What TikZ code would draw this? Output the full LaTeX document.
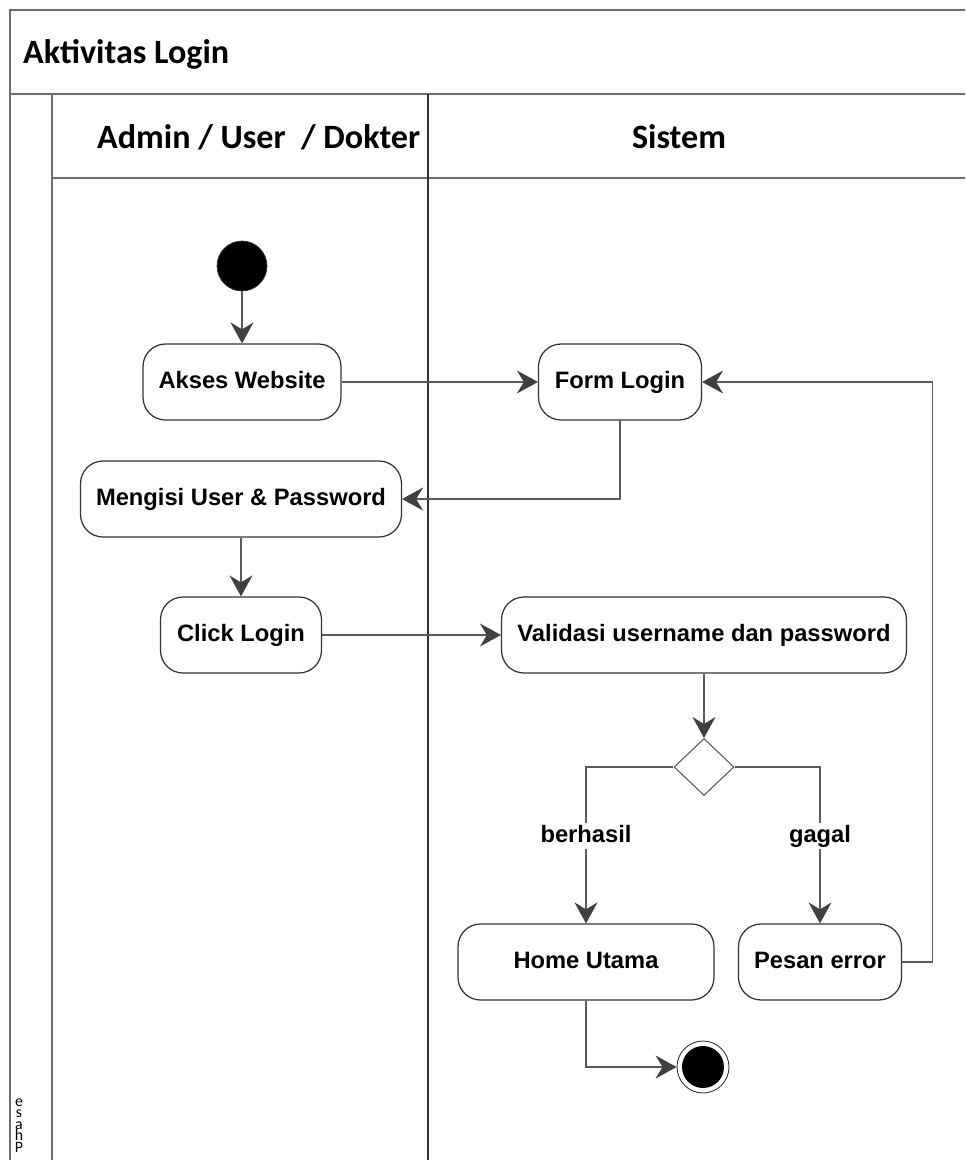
\documentclass[tikz,border=0pt]{standalone}
\usepackage{fontspec}
\setmainfont{Liberation Sans}
\newfontfamily\lanefont{Carlito}
\usepackage{tikz}
\usetikzlibrary{arrows.meta,shapes.geometric,calc}

\definecolor{framegray}{HTML}{6E6E6E}
\definecolor{linegray}{HTML}{5A5A5A}
\definecolor{tipgray}{HTML}{404040}
\definecolor{boxgray}{HTML}{333333}

\begin{document}
\begin{tikzpicture}[x=0.02cm,y=-0.02cm,
  act/.style={draw=boxgray, line width=0.7pt, rounded corners=0.45cm, fill=white,
    minimum height=1.52cm, inner sep=0pt, text height=10pt, text depth=2.5pt,
    font=\fontsize{13.5}{16}\selectfont\bfseries},
  flow/.style={draw=linegray, line width=0.6pt,
    -{Stealth[length=0.42cm, width=0.46cm, inset=0.14cm, color=tipgray, fill=tipgray]}},
  guard/.style={fill=white, inner sep=1pt, text height=10pt, text depth=2.5pt,
    font=\fontsize{13.5}{16}\selectfont\bfseries},
  lane/.style={draw=framegray, line width=1.1pt},
  lanetitle/.style={font=\lanefont\fontsize{19.4}{23}\selectfont\bfseries}]
  \useasboundingbox (0,0) rectangle (965,1160);
  \clip (0,0) rectangle (965,1160);

  % --------------------
  % Swimlane frame
  % --------------------
  \draw[lane] (1000,10) -- (10,10) -- (10,1200);
  \draw[lane] (10,94) -- (1000,94);
  \draw[lane] (52,94) -- (52,1200);
  \draw[lane] (52,178) -- (1000,178);
  \draw[lane, line width=0.7pt, draw=boxgray] (428,94) -- (428,1200);

  \node[lanetitle, anchor=base west] (title) at (17,63) {Aktivitas Login};
  \node[lanetitle, anchor=base west] (laneuser) at (91,148) {Admin / User \ / Dokter};
  \node[lanetitle, anchor=base] (lanesys) at (679,148) {Sistem};

  \node[font=\lanefont\fontsize{9}{6.6}\selectfont, align=center, inner sep=0pt, anchor=north]
    (phase) at (19,1098) {e\\s\\a\\h\\P};

  % --------------------
  % Activities
  % --------------------
  \node[circle, fill=black, draw=boxgray, minimum size=1cm, inner sep=0pt] (start) at (242,266) {};
  \node[act, minimum width=3.96cm] (akses) at (242,382) {Akses Website};
  \node[act, minimum width=3.26cm] (form) at (620,382) {Form Login};
  \node[act, minimum width=6.42cm] (isi) at (241,499) {Mengisi User \& Password};
  \node[act, minimum width=3.22cm] (click) at (241,635) {Click Login};
  \node[act, minimum width=8.1cm] (valid) at (704,635) {Validasi username dan password};
  \node[diamond, draw=linegray, line width=0.6pt, minimum width=1.2cm, minimum height=1.14cm,
    inner sep=0pt, fill=white] (cek) at (704,767) {};
  \node[act, minimum width=5.12cm] (home) at (586,962) {Home Utama};
  \node[act, minimum width=3.26cm] (pesan) at (820,962) {Pesan error};
  \node[circle, draw=boxgray, line width=0.5pt, minimum size=1.04cm, inner sep=0pt] (finish) at (703,1067) {};
  \node[circle, fill=black, minimum size=0.84cm, inner sep=0pt] (finishdot) at (finish) {};

  % --------------------
  % Flow
  % --------------------
  \draw[flow] (start) -- (akses);
  \draw[flow] (akses) -- (form);
  \draw[flow] (form.south) |- (isi.east);
  \draw[flow] (isi) -- (click);
  \draw[flow] (click) -- (valid);
  \draw[flow] (valid.south) -- (cek.north);
  \draw[flow] (cek.west) -| node[guard, pos=0.72] {berhasil} (home.north);
  \draw[flow] (cek.east) -| node[guard, pos=0.72] {gagal} (pesan.north);
  \draw[flow] (pesan.east) -- ++(30,0) |- (form.east);
  \draw[flow] (home.south) |- (finish.west);

\end{tikzpicture}
\end{document}
